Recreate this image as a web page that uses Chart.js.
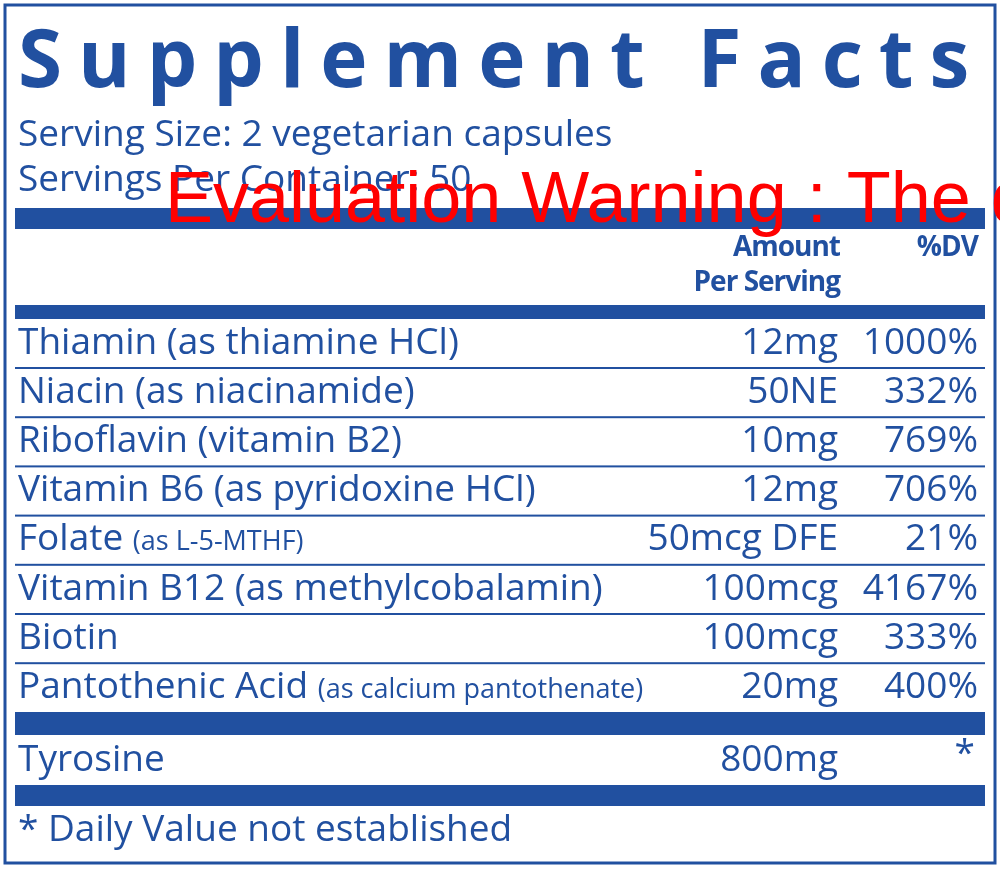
<!DOCTYPE html>
<html>
<head>
<meta charset="utf-8">
<script src="https://cdn.jsdelivr.net/npm/chart.js@4/dist/chart.umd.min.js"></script>
<style>
  html, body { margin: 0; padding: 0; background: #fff; }
  #wrap { width: 1000px; height: 869px; }
</style>
</head>
<body>
<div id="wrap"><canvas id="label"></canvas></div>
<script>
// Label data
const title = "Supplement Facts";
const servingLines = ["Serving Size: 2 vegetarian capsules", "Servings Per Container: 50"];
const nutrients = ["Thiamin", "Niacin", "Riboflavin", "Vitamin B6", "Folate", "Vitamin B12", "Biotin", "Pantothenic Acid"];
const notes = ["(as thiamine HCl)", "(as niacinamide)", "(vitamin B2)", "(as pyridoxine HCl)", "(as L-5-MTHF)", "(as methylcobalamin)", "", "(as calcium pantothenate)"];
const smallNote = [false, false, false, false, true, false, false, true];
const amounts = ["12mg", "50NE", "10mg", "12mg", "50mcg DFE", "100mcg", "100mcg", "20mg"];
const dvs = ["1000%", "332%", "769%", "706%", "21%", "4167%", "333%", "400%"];
const extraNames = ["Tyrosine"];
const extraAmounts = ["800mg"];
const extraDvs = ["*"];
const footnote = "* Daily Value not established";

const BLUE = "#2150a0";
const FONT = "'Open Sans', sans-serif";

const labelPlugin = {
  id: "factsLabel",
  afterDraw(chart) {
    const c = chart.ctx;
    const X = v => chart.scales.x.getPixelForValue(v);
    const Y = v => chart.scales.y.getPixelForValue(v);
    c.save();
    c.fillStyle = BLUE;
    c.strokeStyle = BLUE;
    // border
    c.lineWidth = 3;
    c.strokeRect(X(5), Y(5), X(995) - X(5), Y(863) - Y(5));
    // title with spacing
    c.font = "bold 80px " + FONT;
    c.textBaseline = "alphabetic";
    c.textAlign = "left";
    c.letterSpacing = "16px";
    c.fillText(title, X(18), Y(87));
    c.letterSpacing = "0px";
    c.font = "37px " + FONT;
    c.textBaseline = "middle";
    servingLines.forEach((s, i) => c.fillText(s, X(18), Y(135 + i * 45)));
    // thick bars
    const bar = (y0, y1) => c.fillRect(X(15), Y(y0), X(985) - X(15), Y(y1) - Y(y0));
    bar(208, 229); bar(305, 319); bar(712, 735); bar(785, 806);
    // header
    c.font = "bold 28px " + FONT;
    c.textAlign = "right";
    c.letterSpacing = "-1px";
    c.fillText("Amount", X(840), Y(248));
    c.fillText("Per Serving", X(840), Y(283));
    c.fillText("%DV", X(978), Y(248));
    c.letterSpacing = "0px";
    // rows
    const rowY = i => 343 + i * 49.2;
    nutrients.forEach((n, i) => {
      const y = Y(rowY(i));
      c.textAlign = "left";
      c.font = "37px " + FONT;
      c.fillText(n, X(18), y);
      const w = c.measureText(n + " ").width;
      c.font = (smallNote[i] ? "27px " : "37px ") + FONT;
      c.fillText(notes[i], X(18) + w, y + (smallNote[i] ? 3 : 0));
      c.font = "37px " + FONT;
      c.textAlign = "right";
      c.fillText(amounts[i], X(838), y);
      c.fillText(dvs[i], X(978), y);
      if (i < nutrients.length - 1) {
        c.fillRect(X(15), Y(rowY(i) + 24), X(985) - X(15), 2);
      }
    });
    extraNames.forEach((n, i) => {
      const y = Y(760);
      c.textAlign = "left";
      c.fillText(n, X(18), y);
      c.textAlign = "right";
      c.fillText(extraAmounts[i], X(838), y);
      c.fillText(extraDvs[i], X(975), y - 6);
    });
    c.textAlign = "left";
    c.fillText(footnote, X(18), Y(830));
    // watermark
    c.fillStyle = "#ff0000";
    c.font = "72px 'Liberation Sans', Arial, sans-serif";
    c.textBaseline = "alphabetic";
    c.fillText("Evaluation Warning : The document was created", X(165), Y(222));
    c.restore();
  }
};

new Chart(document.getElementById("label"), {
  type: "scatter",
  data: { datasets: [] },
  options: {
    responsive: true,
    maintainAspectRatio: false,
    animation: false,
    layout: { padding: 0 },
    plugins: { legend: { display: false }, tooltip: { enabled: false } },
    scales: {
      x: { type: "linear", min: 0, max: 1000, display: false },
      y: { type: "linear", min: 0, max: 869, reverse: true, display: false }
    }
  },
  plugins: [labelPlugin]
});
</script>
</body>
</html>
